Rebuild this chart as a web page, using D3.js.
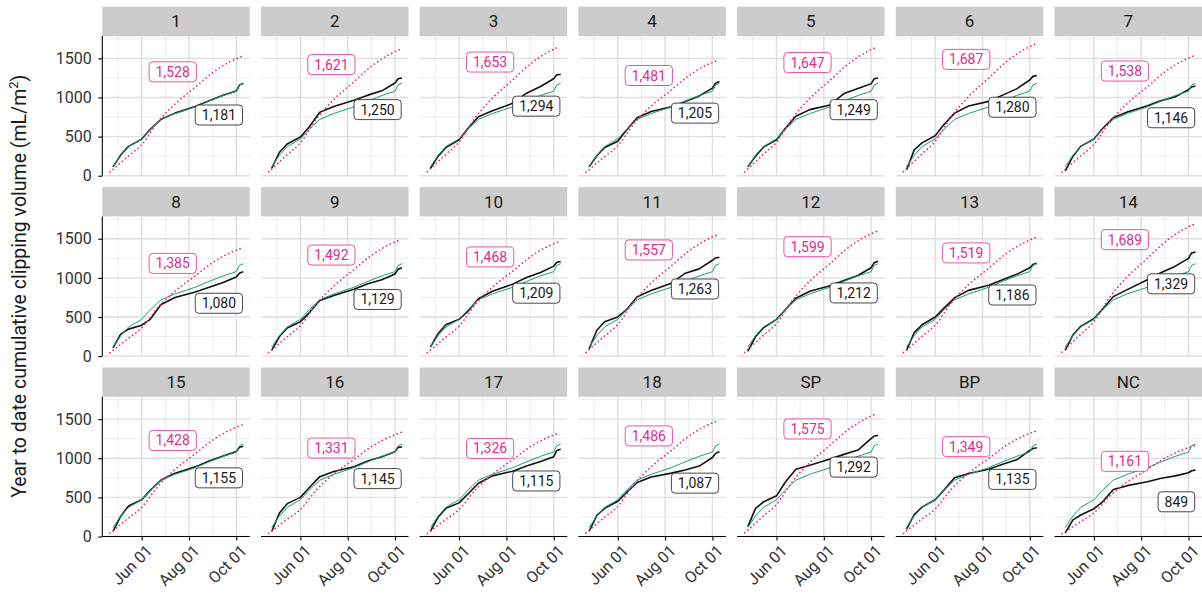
<!DOCTYPE html>
<html><head><meta charset="utf-8">
<script src="https://cdn.jsdelivr.net/npm/d3@7"></script>
<style>body{margin:0;background:#fff}svg{display:block}</style>
</head><body>
<svg id="chart" width="1202" height="602"></svg>
<script>
// ---------------- data ----------------
const facets = ["1","2","3","4","5","6","7","8","9","10","11","12","13","14","15","16","17","18","SP","BP","NC"];

const obsDates = ["2022-04-25","2022-05-05","2022-05-15","2022-06-01","2022-06-12","2022-06-26","2022-07-14",
                  "2022-08-09","2022-08-27","2022-09-14","2022-10-01","2022-10-05","2022-10-10"];

// black line: cumulative clipping volume of each plot
const plotSeries = [
  [112, 265, 375, 468, 592, 722, 800, 885, 958, 1028, 1082, 1158, 1181],
  [ 95, 300, 405, 495, 620, 810, 885, 965, 1030, 1085, 1185, 1240, 1250],
  [ 94, 250, 360, 460, 600, 754, 830, 925, 1055, 1140, 1240, 1290, 1294],
  [115, 255, 360, 440, 580, 740, 820, 880, 950, 1020, 1120, 1180, 1205],
  [115, 250, 365, 460, 600, 760, 845, 905, 1050, 1115, 1175, 1240, 1249],
  [ 72, 330, 420, 510, 650, 800, 890, 950, 1030, 1110, 1223, 1270, 1280],
  [ 60, 250, 375, 470, 600, 740, 815, 895, 960, 1010, 1100, 1135, 1146],
  [107, 280, 345, 395, 470, 660, 750, 820, 880, 940, 1010, 1060, 1080],
  [ 72, 250, 360, 440, 550, 710, 775, 855, 925, 975, 1050, 1110, 1129],
  [115, 290, 400, 470, 570, 733, 830, 920, 1005, 1070, 1150, 1200, 1209],
  [ 94, 330, 440, 500, 590, 760, 840, 930, 1060, 1115, 1225, 1255, 1263],
  [ 60, 250, 360, 470, 590, 740, 830, 900, 965, 1030, 1130, 1195, 1212],
  [ 72, 300, 400, 500, 610, 745, 840, 905, 975, 1045, 1130, 1170, 1186],
  [ 72, 270, 380, 477, 600, 760, 850, 975, 1070, 1150, 1250, 1320, 1329],
  [ 64, 260, 390, 470, 590, 722, 810, 890, 965, 1030, 1085, 1140, 1155],
  [ 64, 300, 420, 500, 620, 765, 830, 892, 965, 1020, 1085, 1140, 1145],
  [ 64, 250, 360, 430, 540, 680, 775, 835, 900, 960, 1020, 1100, 1115],
  [ 64, 270, 360, 450, 560, 690, 760, 810, 850, 900, 1010, 1060, 1087],
  [127, 360, 440, 520, 690, 860, 910, 990, 1050, 1105, 1250, 1285, 1292],
  [ 93, 280, 375, 470, 590, 750, 805, 860, 925, 980, 1100, 1125, 1135],
  [ 45, 213, 275, 355, 440, 600, 650, 700, 745, 775, 815, 840, 849]
];

// green line: all-plot mean (same in every panel)
const meanSeries = [115, 262, 372, 470, 590, 720, 795, 880, 955, 1025, 1080, 1160, 1181];

// pink dotted line: expected cumulative volume
const pinkDates = ["2022-04-21","2022-05-14","2022-06-01","2022-06-22","2022-07-14","2022-08-09","2022-08-31","2022-09-22","2022-10-09"];
const pinkSeries = [
  [46, 244, 397, 688, 917, 1131, 1314, 1452, 1528],
  [49, 259, 421, 729, 973, 1200, 1394, 1540, 1621],
  [50, 264, 430, 744, 992, 1223, 1422, 1570, 1653],
  [44, 237, 385, 666, 889, 1096, 1274, 1407, 1481],
  [49, 264, 428, 741, 988, 1219, 1416, 1565, 1647],
  [51, 270, 439, 759, 1012, 1248, 1451, 1603, 1687],
  [46, 246, 400, 692, 923, 1138, 1323, 1461, 1538],
  [42, 222, 360, 623, 831, 1025, 1191, 1316, 1385],
  [45, 239, 388, 671, 895, 1104, 1283, 1417, 1492],
  [44, 235, 382, 661, 881, 1086, 1262, 1395, 1468],
  [47, 249, 405, 701, 934, 1152, 1339, 1479, 1557],
  [48, 256, 416, 720, 959, 1183, 1375, 1519, 1599],
  [46, 243, 395, 684, 911, 1124, 1306, 1443, 1519],
  [51, 270, 439, 760, 1013, 1250, 1453, 1605, 1689],
  [43, 228, 371, 643, 857, 1057, 1228, 1357, 1428],
  [40, 213, 346, 599, 799, 985, 1145, 1264, 1331],
  [40, 212, 345, 597, 796, 981, 1140, 1260, 1326],
  [45, 238, 386, 669, 892, 1100, 1278, 1412, 1486],
  [47, 252, 410, 709, 945, 1166, 1355, 1496, 1575],
  [40, 216, 351, 607, 809, 998, 1160, 1282, 1349],
  [35, 186, 302, 522, 697, 859, 998, 1103, 1161]
];

const yTicks = [0, 500, 1000, 1500];
const yMinorTicks = [250, 750, 1250, 1750];
const xTicks = ["2022-06-01", "2022-08-01", "2022-10-01"];
const yTitle = "Year to date cumulative clipping volume (mL/m";

// ---------------- layout ----------------
const FONT = "Roboto, 'Liberation Sans', Arial, sans-serif";
const PINK = "#e7298a", GREEN = "#1b9e77", INK = "#1a1a1a";
const ncol = 7, left0 = 102.3, colStep = 158.7, panelW = 147.5;
const top0 = 36, rowStep = 180.4, panelH = 139.7, stripH = 29.3;
const DAY = 864e5;
const parse = d3.timeParse("%Y-%m-%d");
const fmt = d3.format(",");

const x = d3.scaleTime()
  .domain([new Date(+parse("2022-06-01") - 50.8 * DAY), new Date(+parse("2022-10-01") + 17.4 * DAY)])
  .range([0, panelW]);
const y = d3.scaleLinear().domain([0, 1786]).range([panelH, 0]);

const majorX = xTicks.map(parse);
const minorX = [new Date(+majorX[0] - (majorX[1] - majorX[0]) / 2),
                new Date((+majorX[0] + +majorX[1]) / 2),
                new Date((+majorX[1] + +majorX[2]) / 2)];
const obsX = obsDates.map(parse);
const pinkX = pinkDates.map(parse);

const svg = d3.select("#chart");
svg.append("rect").attr("width", 1202).attr("height", 602).attr("fill", "#fff");

const line = d3.line().x(d => x(d[0])).y(d => y(d[1]));
const pinkLine = d3.line().curve(d3.curveMonotoneX).x(d => x(d[0])).y(d => y(d[1]));

function addLabel(g, txt, xPos, yPos, color, anchor) {
  const lg = g.append("g");
  const t = lg.append("text").text(txt)
    .attr("font-family", FONT).attr("font-size", 14).attr("fill", color)
    .attr("dy", "0.36em");
  const w = t.node().getComputedTextLength();
  const padX = 6.5, h = 20;
  const bw = w + 2 * padX;
  const bx = anchor === "end" ? xPos - bw : xPos - bw / 2;
  t.attr("x", bx + padX).attr("y", yPos);
  lg.insert("rect", "text")
    .attr("x", bx).attr("y", yPos - h / 2).attr("width", bw).attr("height", h)
    .attr("rx", 3.5).attr("fill", "#fff").attr("stroke", color).attr("stroke-width", 0.8);
}

facets.forEach((name, i) => {
  const c = i % ncol, r = Math.floor(i / ncol);
  const g = svg.append("g").attr("transform", `translate(${left0 + c * colStep},${top0 + r * rowStep})`);

  // strip
  g.append("rect").attr("x", 0).attr("y", -stripH).attr("width", panelW).attr("height", stripH).attr("fill", "#cccccc");
  g.append("text").attr("x", panelW / 2).attr("y", -stripH / 2).attr("dy", "0.36em")
    .attr("text-anchor", "middle").attr("font-family", FONT).attr("font-size", 17).attr("fill", INK).text(name);

  // grid
  const grid = g.append("g");
  grid.selectAll(".ymin").data(yMinorTicks).join("line")
    .attr("x1", 0).attr("x2", panelW).attr("y1", d => y(d)).attr("y2", d => y(d))
    .attr("stroke", "#ececec").attr("stroke-width", 1);
  grid.selectAll(".xmin").data(minorX).join("line")
    .attr("y1", 0).attr("y2", panelH).attr("x1", d => x(d)).attr("x2", d => x(d))
    .attr("stroke", "#ececec").attr("stroke-width", 1);
  grid.selectAll(".ymaj").data(yTicks).join("line")
    .attr("x1", 0).attr("x2", panelW).attr("y1", d => y(d)).attr("y2", d => y(d))
    .attr("stroke", "#dedede").attr("stroke-width", 1.4);
  grid.selectAll(".xmaj").data(majorX).join("line")
    .attr("y1", 0).attr("y2", panelH).attr("x1", d => x(d)).attr("x2", d => x(d))
    .attr("stroke", "#dedede").attr("stroke-width", 1.4);

  // lines
  const blk = plotSeries[i].map((v, k) => [obsX[k], v]);
  const grn = meanSeries.map((v, k) => [obsX[k], v]);
  const pnk = pinkSeries[i].map((v, k) => [pinkX[k], v]);
  g.append("path").attr("d", line(blk)).attr("fill", "none").attr("stroke", "#111").attr("stroke-width", 1.6).attr("stroke-linejoin", "round");
  g.append("path").attr("d", line(grn)).attr("fill", "none").attr("stroke", GREEN).attr("stroke-width", 1).attr("stroke-linejoin", "round");
  g.append("path").attr("d", pinkLine(pnk)).attr("fill", "none").attr("stroke", PINK)
    .attr("stroke-width", 1.7).attr("stroke-linecap", "round").attr("stroke-dasharray", "0.1,4");

  // labels
  const pinkEnd = pinkSeries[i][pinkSeries[i].length - 1];
  const blkEnd = plotSeries[i][plotSeries[i].length - 1];
  addLabel(g, fmt(pinkEnd), x(parse("2022-07-11")), y(pinkEnd - 200), PINK, "middle");
  addLabel(g, fmt(blkEnd), x(parse("2022-10-09")), y(blkEnd - 405), INK, "end");

  // axes
  if (c === 0) {
    const ax = g.append("g").call(d3.axisLeft(y).tickValues(yTicks).tickFormat(d3.format("d"))
      .tickSize(4).tickSizeOuter(0).tickPadding(6.5));
    ax.select(".domain").attr("stroke", "#000").attr("stroke-width", 1.1).attr("d", `M0,0V${panelH}`);
    ax.selectAll(".tick line").attr("stroke", "#000").attr("stroke-width", 1.1);
    ax.selectAll("text").attr("font-family", FONT).attr("font-size", 16).attr("fill", "#333");
  }
  if (r === 2) {
    const ax = g.append("g").attr("transform", `translate(0,${panelH})`)
      .call(d3.axisBottom(x).tickValues(majorX).tickFormat(d3.timeFormat("%b %d")).tickSize(4).tickSizeOuter(0));
    ax.select(".domain").attr("stroke", "#000").attr("stroke-width", 1.1).attr("d", `M0,0H${panelW}`);
    ax.selectAll(".tick line").attr("stroke", "#000").attr("stroke-width", 1.1);
    ax.selectAll("text").attr("font-family", FONT).attr("font-size", 16).attr("fill", "#333")
      .attr("x", 0).attr("y", 0).attr("dy", "0.72em")
      .attr("transform", "translate(3,7) rotate(-45)")
      .style("text-anchor", "end");
  }
});

// y-axis title
const title = svg.append("text")
  .attr("transform", `translate(26,${(top0 + 2 * rowStep + panelH + top0) / 2}) rotate(-90)`)
  .attr("text-anchor", "middle").attr("font-family", FONT).attr("font-size", 19.5).attr("fill", INK);
title.append("tspan").text(yTitle);
title.append("tspan").text("2").attr("font-size", 13).attr("dy", -8);
title.append("tspan").text(")").attr("dy", 8);
</script>
</body></html>
